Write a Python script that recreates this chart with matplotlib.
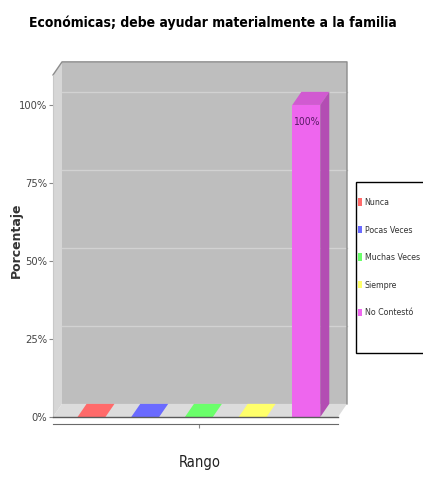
import matplotlib
matplotlib.use('Agg')
import matplotlib.pyplot as plt
from matplotlib import font_manager as fm
from matplotlib.patches import Polygon, Patch, Rectangle
from matplotlib.colors import to_rgb

# ── Data ───────────────────────────────────────────────────────────────────
categories = ['Nunca', 'Pocas Veces', 'Muchas Veces', 'Siempre', 'No Contestó']
values = [0, 0, 0, 0, 100]
colors = ['#FF6A6A', '#6A6AFF', '#6AFF6A', '#FFFF6A', '#EE66EE']
yticks = [0, 25, 50, 75, 100]
yticklabels = ['0%', '25%', '50%', '75%', '100%']

title = 'Económicas; debe ayudar materialmente a la familia'


# ── Fonts: look for a narrow/condensed face, else fall back ────────────────
def _weight(w):
    return fm.weight_dict.get(w, 400) if isinstance(w, str) else int(w)


def find_narrow(bold):
    found = []
    for f in fm.fontManager.ttflist:
        key = (f.name + ' ' + f.fname).lower()
        narrow = ('narrow' in key or 'condensed' in key
                  or f.stretch in ('condensed', 'semi-condensed', 'extra-condensed'))
        if not narrow or 'italic' in key or f.style != 'normal':
            continue
        w = _weight(f.weight)
        if bold and w < 600:
            continue
        if not bold and not (350 <= w <= 500):
            continue
        found.append(f.fname)
    found.sort()
    return fm.FontProperties(fname=found[0]) if found else None


FP_NARROW = find_narrow(False)
FP_NARROW_B = find_narrow(True)
HAVE_NARROW = FP_NARROW is not None
if FP_NARROW is None:
    FP_NARROW = fm.FontProperties(family='Liberation Sans')
if FP_NARROW_B is None:
    FP_NARROW_B = fm.FontProperties(family='Liberation Sans', weight='bold')


def fp(base, size):
    p = base.copy()
    p.set_size(size)
    return p


S = 1.0 if HAVE_NARROW else 0.8   # shrink text if only a wide face exists

# ── 3D box geometry (data units) ───────────────────────────────────────────
L, R = -0.717, 4.59        # front-left / front-right of the plot box
DX, DY = 0.168, 4.2        # depth offset
W_TOP = 109.6              # wall height
BAR_W = 0.52


def shade(c, f):
    r, g, b = to_rgb(c)
    return (r * f, g * f, b * f)


fig = plt.figure(figsize=(4.23, 4.79), dpi=100)
ax = fig.add_axes([45 / 423, 1 - 430 / 479, 310 / 423, 380 / 479])
ax.set_xlim(-0.866, 4.907)
ax.set_ylim(-4.17, 117.6)
ax.patch.set_visible(False)

# walls
ax.add_patch(Polygon([(L + DX, DY), (R + DX, DY), (R + DX, W_TOP + DY), (L + DX, W_TOP + DY)],
                     closed=True, fc='#BEBEBE', ec='none', zorder=1))
ax.add_patch(Polygon([(L, 0), (L, W_TOP), (L + DX, W_TOP + DY), (L + DX, DY)],
                     closed=True, fc='#D6D6D6', ec='none', zorder=1))
ax.add_patch(Polygon([(L, 0), (R, 0), (R + DX, DY), (L + DX, DY)],
                     closed=True, fc='#DCDCDC', ec='none', zorder=1))
for v in yticks[1:]:
    ax.plot([L + DX, R + DX], [v + DY, v + DY], color='#D2D2D2', lw=1, zorder=2)
ax.plot([L, L + DX, R + DX, R + DX], [W_TOP, W_TOP + DY, W_TOP + DY, DY],
        color='#8C8C8C', lw=1, zorder=2)
ax.plot([L, R], [0, 0], color='#5A5A5A', lw=1, zorder=5)

# bars
for i, (v, c) in enumerate(zip(values, colors)):
    x0, x1 = i - BAR_W / 2, i + BAR_W / 2
    ax.add_patch(Polygon([(x0, v), (x1, v), (x1 + DX, v + DY), (x0 + DX, v + DY)],
                         closed=True, fc=shade(c, 0.88 if v else 1.0), ec='none', zorder=3))
    if v:
        ax.add_patch(Polygon([(x0, 0), (x1, 0), (x1, v), (x0, v)],
                             closed=True, fc=c, ec='none', zorder=4))
        ax.add_patch(Polygon([(x1, 0), (x1, v), (x1 + DX, v + DY), (x1 + DX, DY)],
                             closed=True, fc=shade(c, 0.75), ec='none', zorder=4))
        ax.text(i, v - 5.5, f'{v}%', ha='center', va='center',
                fontproperties=fp(FP_NARROW, 7.5 * S), color='#5A1A66', zorder=6)

# axes
for s in ('top', 'right'):
    ax.spines[s].set_visible(False)
ax.spines['left'].set_position(('data', L))
ax.spines['left'].set_bounds(0, W_TOP)
ax.spines['left'].set_color('#C8C8C8')
ax.spines['bottom'].set_position(('data', -2.1))
ax.spines['bottom'].set_bounds(L, R)
ax.spines['bottom'].set_color('#6A6A6A')
ax.set_yticks(yticks)
ax.set_yticklabels(yticklabels, fontproperties=fp(FP_NARROW, 8 * S), color='#444444')
ax.tick_params(axis='y', length=3, pad=1, color='#888888')
ax.set_xticks([2])
ax.set_xticklabels([''])
ax.tick_params(axis='x', length=3, color='#888888')

ax.set_xlabel('Rango', fontproperties=fp(FP_NARROW, 10.5), color='#222222')
ax.xaxis.set_label_coords(0.5, -0.066)
ax.set_ylabel('Porcentaje', family='DejaVu Sans', fontweight='bold', fontsize=9,
              color='#333333')
ax.yaxis.set_label_coords(-0.072, 0.5)

fig.text(213 / 423, 1 - 23 / 479, title, ha='center', va='center',
         fontproperties=fp(FP_NARROW_B, 10.0 if HAVE_NARROW else 8.5), color='black')

# legend: box drawn separately so the padding can differ per side
fig.add_artist(Rectangle((356 / 423, 1 - 353 / 479), 90 / 423, 171 / 479,
                         transform=fig.transFigure, fc='white', ec='black', lw=1,
                         zorder=1))
handles = [Patch(fc=c, ec='none', label=n) for n, c in zip(categories, colors)]
leg = fig.legend(handles=handles, loc='upper left',
                 bbox_to_anchor=(358 / 423, 1 - 198 / 479),
                 frameon=False, handlelength=0.45, handleheight=0.9, handletextpad=0.3,
                 labelspacing=2.12, borderpad=0, borderaxespad=0,
                 prop=fp(FP_NARROW, 6.3 if HAVE_NARROW else 5.6))
leg.set_zorder(2)
for t in leg.get_texts():
    t.set_color('#333333')

fig.savefig('out.png', dpi=100)
